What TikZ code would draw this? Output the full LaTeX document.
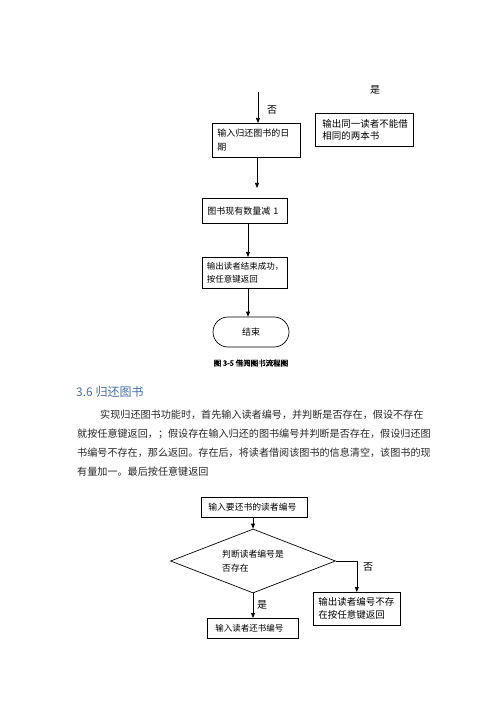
\documentclass[tikz,border=0pt]{standalone}
\usepackage{fontspec}
\setmainfont{Noto Sans CJK SC}[AutoFakeBold=2]
\usetikzlibrary{shapes.geometric,arrows.meta}
\definecolor{headblue}{RGB}{70,110,170}
\tikzset{
 box/.style={draw, line width=0.7pt, rectangle, anchor=north west, inner xsep=5pt, inner ysep=0pt, align=left},
 arr/.style={-{Triangle[length=5pt,width=4pt]}, line width=0.7pt},
 lbl/.style={font=\fontsize{10}{12}\selectfont, inner sep=0pt},
 para/.style={anchor=west, inner sep=0pt, font=\fontsize{10.1}{12}\selectfont, text=black!85},
}
\begin{document}
\begin{tikzpicture}[x=1pt,y=-1pt]
\useasboundingbox (0,0) rectangle (500,708);
% upper flowchart
\node[box, minimum width=88pt, minimum height=34pt, text width=78pt, font=\fontsize{9}{14}\selectfont] (b1) at (212,123) {输入归还图书的日\\期};
\node[box, inner xsep=7pt, minimum width=98pt, minimum height=33pt, text width=84pt, font=\fontsize{9.5}{12}\selectfont] (br) at (315,113) {输出同一读者不能借\\相同的两本书};
\node[box, minimum width=85pt, minimum height=25pt, text width=75pt, font=\fontsize{9}{12}\selectfont] (b2) at (202,198) {图书现有数量减 1};
\node[box, inner xsep=4.5pt, minimum width=85pt, minimum height=31pt, text width=76pt, font=\fontsize{8.5}{13}\selectfont] (b3) at (202,257) {输出读者结束成功，\\按任意键返回};
\node[draw, line width=0.7pt, rounded corners=15pt, minimum width=76pt, minimum height=30pt, font=\fontsize{9}{12}\selectfont] (end) at (251,332) {结束};
\node[font=\fontsize{7.5}{9}\selectfont\bfseries] (cap) at (251,363) {图 3-5 借阅图书流程图};
\node[lbl] (yes1) at (375,90) {是};
\node[lbl] (no1) at (272,110) {否};
\coordinate (s0) at (258,92);
\draw[arr] (s0) -- (s0 |- b1.north);
\coordinate (c1) at (257,188);
\draw[arr] (b1.south -| c1) -- (c1);
\coordinate (c2) at (248,0);
\draw[arr] (b2.south -| c2) -- (b3.north -| c2);
\draw[arr] (b3.south -| c2) -- (end.north -| c2);
% section text
\node[anchor=west, inner sep=0pt, text=headblue, font=\fontsize{12}{14}\selectfont] (head) at (76,392) {3.6 归还图书};
\node[para] (p1) at (100,415) {实现归还图书功能时，首先输入读者编号，并判断是否存在，假设不存在};
\node[para] (p2) at (77,434) {就按任意键返回，；假设存在输入归还的图书编号并判断是否存在，假设归还图};
\node[para] (p3) at (77,453) {书编号不存在，那么返回。存在后，将读者借阅该图书的信息清空，该图书的现};
\node[para] (p4) at (77,472) {有量加一。最后按任意键返回};
% lower flowchart
\node[box, inner xsep=7pt, minimum width=106pt, minimum height=20pt, text width=92pt, font=\fontsize{8.8}{12}\selectfont] (bA) at (201,497) {输入要还书的读者编号};
\node[draw, line width=0.7pt, diamond, aspect=2.58, minimum width=165pt, minimum height=64pt, inner sep=0pt, align=left, font=\fontsize{8.8}{14}\selectfont] (d) at (253,561) {判断读者编号是\\否存在};
\node[box, inner xsep=5pt, minimum width=87pt, minimum height=33pt, text width=77pt, font=\fontsize{9.5}{13}\selectfont] (bB) at (313,592) {输出读者编号不存\\在按任意键返回};
\node[box, inner xsep=8pt, minimum width=91pt, minimum height=20pt, text width=75pt, font=\fontsize{8.5}{12}\selectfont] (bC) at (207,618) {输入读者还书编号};
\node[lbl] (no2) at (368,567) {否};
\node[lbl] (yes2) at (262,605) {是};
\draw[arr] (d.north |- bA.south) -- (d.north);
\draw[arr] (d.east) -| (bB.north);
\draw[arr] (d.south) -- (d.south |- bC.north);
\end{tikzpicture}
\end{document}
